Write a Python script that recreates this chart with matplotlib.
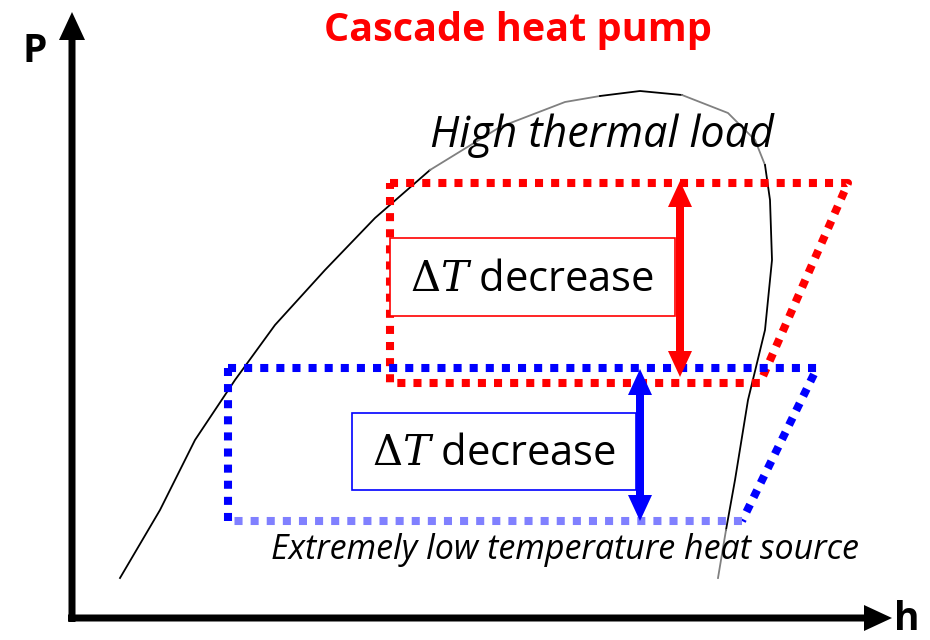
import numpy as np
import matplotlib
matplotlib.use("Agg")
import matplotlib.pyplot as plt
from matplotlib.patches import Rectangle

plt.rcParams['font.family'] = ['Open Sans', 'DejaVu Sans']
plt.rcParams['mathtext.fontset'] = 'dejavuserif'

# saturation dome (h, P) in picture coordinates
dome_h = [120, 160, 195, 235, 275, 325, 375, 430, 500, 565, 600, 640, 682, 728, 755, 765, 770, 772, 765, 748, 735, 726, 718]
dome_p = [578, 510, 440, 380, 325, 270, 218, 170, 127, 102, 96, 91, 95, 113, 140, 165, 200, 260, 330, 400, 480, 530, 578]
# (start index, end index, colour) of each stretch of the dome
dome_parts = [(0, 7, 'black'), (7, 10, 'gray'), (10, 12, 'black'),
              (12, 15, 'gray'), (15, 21, 'black'), (21, 22, 'gray')]

# cascade cycle boxes: corners of the dotted outlines
red_box_h = [390, 848, 760, 390, 390]
red_box_p = [183, 183, 383, 383, 183]
blue_box_h = [228, 817, 742]
blue_box_p = [368, 368, 521]
blue_bottom_h = [742, 228]
blue_bottom_p = [521, 521]
blue_left_h = [228, 228]
blue_left_p = [521, 368]

labels = ["Cascade heat pump", "High thermal load", r"$\Delta T$ decrease",
          "Extremely low temperature heat source"]

fig = plt.figure(figsize=(9.3, 6.4), dpi=100)
ax = fig.add_axes([0, 0, 1, 1])
ax.set_xlim(0, 930)
ax.set_ylim(640, 0)
ax.axis('off')

for i0, i1, c in dome_parts:
    ax.plot(dome_h[i0:i1 + 1], dome_p[i0:i1 + 1], color=c, lw=1.3)

dots = (0, (1, 1))
ax.plot(red_box_h, red_box_p, color='#ff0000', lw=5.8, ls=dots, dash_capstyle='butt')
ax.plot(blue_box_h, blue_box_p, color='#0000ff', lw=5.8, ls=dots, dash_capstyle='butt')
ax.plot(blue_left_h, blue_left_p, color='#0000ff', lw=5.8, ls=dots, dash_capstyle='butt')
ax.plot(blue_bottom_h, blue_bottom_p, color='#8080ff', lw=5.8, ls=dots, dash_capstyle='butt')

# label boxes
ax.add_patch(Rectangle((390, 238), 285, 78, fc='white', ec='red', lw=1.2, zorder=3))
ax.add_patch(Rectangle((352, 413), 284, 77, fc='white', ec='blue', lw=1.2, zorder=3))
ax.text(532, 280, labels[2], fontsize=30, ha='center', va='center', zorder=4)
ax.text(494, 454, labels[2], fontsize=30, ha='center', va='center', zorder=4)

# double arrows
def double_arrow(x, y0, y1, c):
    ym = (y0 + y1) / 2
    for yt in (y0, y1):
        ax.arrow(x, ym, 0, yt - ym, width=8, head_width=24, head_length=26,
                 length_includes_head=True, color=c, lw=0, zorder=5)

double_arrow(680, 181, 377, 'red')
double_arrow(640, 369, 521, 'blue')

# axes arrows
ax.arrow(72, 622, 0, -610, width=7, head_width=26, head_length=28,
         length_includes_head=True, color='black', lw=0, zorder=6)
ax.arrow(68, 618, 824, 0, width=7, head_width=26, head_length=28,
         length_includes_head=True, color='black', lw=0, zorder=6)
ax.text(35, 52, "P", fontsize=28, fontweight='bold', ha='center', va='center')
ax.text(907, 620, "h", fontsize=28, fontweight='bold', ha='center', va='center')

ax.text(518, 30, labels[0], fontsize=28.5, fontweight='bold', color='#ff0000',
        ha='center', va='center')
ax.text(602, 136, labels[1], fontsize=31, style='italic', ha='center', va='center')
ax.text(565, 550, labels[3], fontsize=24.5, style='italic', ha='center', va='center')

fig.savefig("out.png", dpi=100)
